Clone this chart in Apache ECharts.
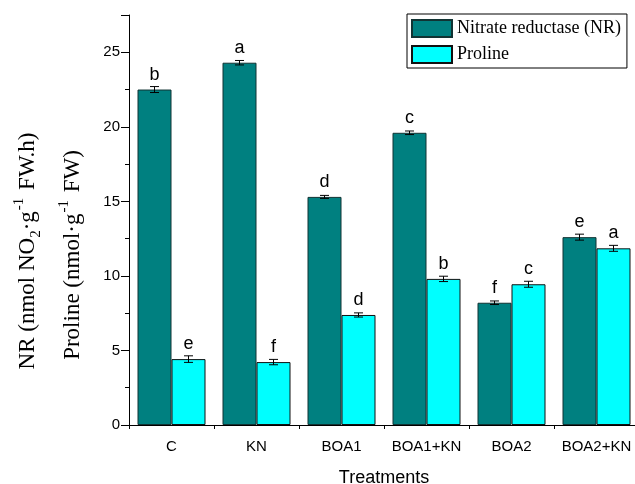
<!DOCTYPE html>
<html>
<head>
<meta charset="utf-8">
<script src="https://cdn.jsdelivr.net/npm/echarts@6/dist/echarts.min.js"></script>
<style>html,body{margin:0;padding:0;background:#fff}#c{width:635px;height:484px}</style>
</head>
<body>
<div id="c"></div>
<script>
var categories = ['C', 'KN', 'BOA1', 'BOA1+KN', 'BOA2', 'BOA2+KN'];
var nrValues = [22.5, 24.3, 15.3, 19.6, 8.2, 12.6];
var nrErrors = [0.2, 0.15, 0.1, 0.12, 0.12, 0.2];
var nrLetters = ['b', 'a', 'd', 'c', 'f', 'e'];
var prolineValues = [4.42, 4.22, 7.38, 9.8, 9.44, 11.85];
var prolineErrors = [0.22, 0.18, 0.14, 0.18, 0.2, 0.2];
var prolineLetters = ['e', 'f', 'd', 'b', 'c', 'a'];
var yTicks = [0, 5, 10, 15, 20, 25];

var chart = echarts.init(document.getElementById('c'), null, {renderer: 'canvas'});

function errData(vals, errs) {
  return vals.map(function (v, i) { return [i, v, errs[i]]; });
}
function errRender(sign) {
  return function (params, api) {
    var i = api.value(0), v = api.value(1), e = api.value(2);
    var band = api.size([1, 0])[0];
    var c = api.coord([i, v]);
    var x = c[0] + sign * band * 0.2;
    var top = api.coord([i, v + e])[1];
    var bot = api.coord([i, v - e])[1];
    var hw = 4.5;
    var st = {stroke: '#000', lineWidth: 1};
    return {type: 'group', children: [
      {type: 'line', shape: {x1: x, y1: top, x2: x, y2: bot}, style: st},
      {type: 'line', shape: {x1: x - hw, y1: top, x2: x + hw, y2: top}, style: st},
      {type: 'line', shape: {x1: x - hw, y1: bot, x2: x + hw, y2: bot}, style: st}
    ]};
  };
}
function letterLabel(letters) {
  return {
    show: true, position: 'top', distance: 6,
    fontFamily: 'Liberation Sans', fontSize: 18, color: '#000',
    formatter: function (p) { return letters[p.dataIndex]; }
  };
}

var serif = 'Liberation Serif';
var rich = {
  m: {fontFamily: serif, fontSize: 23, lineHeight: 32, verticalAlign: 'middle', color: '#000'},
  sup: {fontFamily: serif, fontSize: 15, lineHeight: 32, verticalAlign: 'top', color: '#000', padding: [0, 2, 0, 1]},
  sub: {fontFamily: serif, fontSize: 15, lineHeight: 32, verticalAlign: 'bottom', color: '#000'}
};

var option = {
  animation: false,
  backgroundColor: '#fff',
  grid: {left: 129, top: 15, bottom: 59, right: -4, containLabel: false, outerBoundsMode: 'none'},
  legend: {
    orient: 'vertical', left: 407, top: 14,
    width: 221,
    padding: [5, 6, 4, 4],
    icon: 'rect',
    itemWidth: 40, itemHeight: 17, itemGap: 7,
    borderColor: '#000', borderWidth: 1, backgroundColor: '#fff', borderRadius: 0,
    textStyle: {fontFamily: serif, fontSize: 18, lineHeight: 17, color: '#000'},
    data: ['Nitrate reductase (NR)', 'Proline']
  },
  xAxis: [{
    type: 'category', data: categories,
    axisLine: {lineStyle: {color: '#000', width: 1}},
    axisTick: {alignWithLabel: true, length: 8, lineStyle: {color: '#000'}},
    axisLabel: {interval: 0, fontFamily: 'Liberation Sans', fontSize: 15, color: '#000', margin: 14},
    name: 'Treatments', nameLocation: 'middle', nameGap: 44,
    nameTextStyle: {fontFamily: 'Liberation Sans', fontSize: 18, color: '#000'}
  }, {
    type: 'category', data: categories, position: 'bottom',
    axisLine: {show: false},
    axisTick: {show: true, interval: 0, alignWithLabel: false, length: 4, lineStyle: {color: '#000'}},
    axisLabel: {show: false}
  }],
  yAxis: {
    type: 'value', min: 0, max: 27.5, interval: 5,
    axisLine: {show: true, lineStyle: {color: '#000', width: 1}},
    axisTick: {show: true, length: 8, lineStyle: {color: '#000'}},
    minorTick: {show: true, splitNumber: 2, length: 4, lineStyle: {color: '#000'}},
    splitLine: {show: false},
    axisLabel: {fontFamily: 'Liberation Sans', fontSize: 15, color: '#000', margin: 9,
      formatter: function (v) { return yTicks.indexOf(v) >= 0 ? String(v) : ''; }}
  },
  graphic: [
    {type: 'text', x: 28, y: 251, rotation: Math.PI / 2,
     style: {text: '{m|NR (nmol NO}{sub|2}{m|·g}{sup|-1}{m| FW.h)}', rich: rich, align: 'center', verticalAlign: 'middle'}},
    {type: 'text', x: 73, y: 255, rotation: Math.PI / 2,
     style: {text: '{m|Proline (nmol·g}{sup|-1}{m| FW)}', rich: rich, align: 'center', verticalAlign: 'middle'}}
  ],
  series: [
    {name: 'Nitrate reductase (NR)', type: 'bar', data: nrValues, barGap: '0%', barCategoryGap: '20%',
     itemStyle: {color: '#008080', borderColor: '#113333', borderWidth: 1, borderRadius: 0},
     label: letterLabel(nrLetters), z: 2},
    {name: 'Proline', type: 'bar', data: prolineValues, barGap: '0%', barCategoryGap: '20%',
     itemStyle: {color: '#00ffff', borderColor: '#111', borderWidth: 1, borderRadius: 0},
     label: letterLabel(prolineLetters), z: 2},
    {type: 'custom', renderItem: errRender(-1), data: errData(nrValues, nrErrors), z: 5,
     encode: {x: 0, y: 1}, silent: true},
    {type: 'custom', renderItem: errRender(1), data: errData(prolineValues, prolineErrors), z: 5,
     encode: {x: 0, y: 1}, silent: true}
  ]
};
chart.setOption(option);
</script>
</body>
</html>
